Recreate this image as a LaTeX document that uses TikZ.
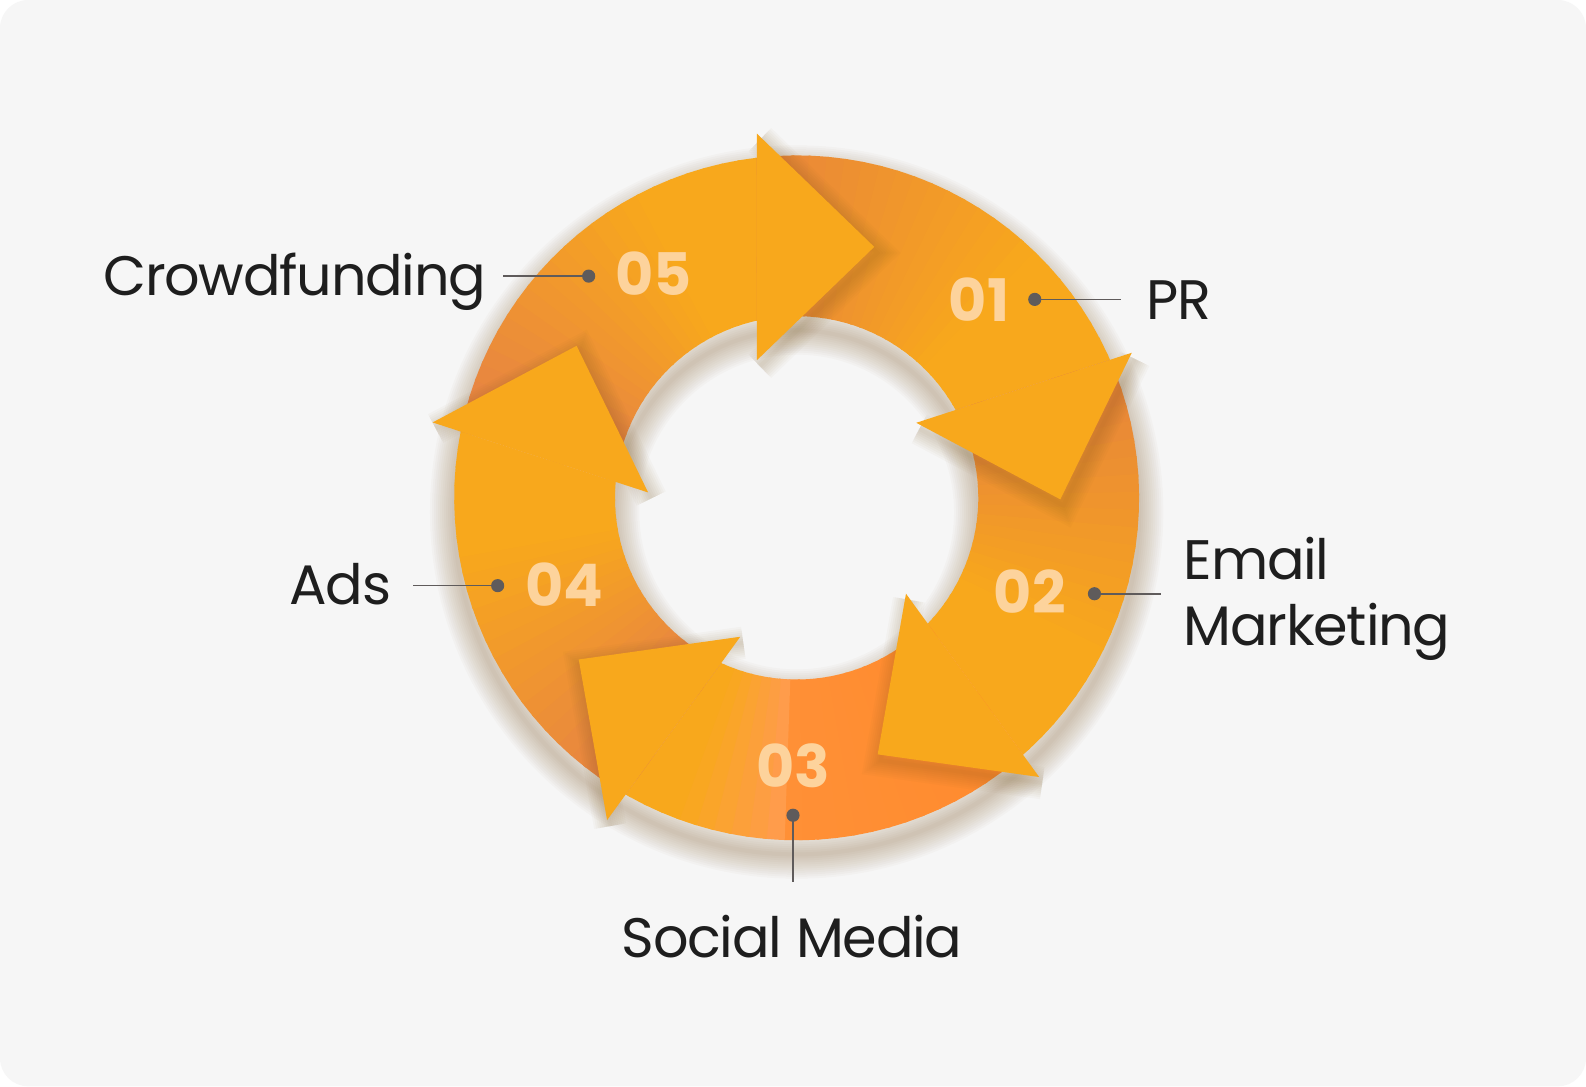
\documentclass[tikz,border=0pt]{standalone}
\usepackage{fontspec}
\setmainfont{Poppins}
\newfontfamily\labelfont{Poppins}[LetterSpace=-2.2]
\usepackage{tikz}
\usetikzlibrary{positioning}

\definecolor{panelbg}{HTML}{F6F6F6}
\definecolor{headorange}{HTML}{F8A81C}
\definecolor{tail05}{HTML}{E57F48}
\definecolor{tail01}{HTML}{E8843C}
\definecolor{tail02}{HTML}{E5803E}
\definecolor{tail03}{HTML}{FF8A2E}
\definecolor{tail04}{HTML}{E57F48}
\definecolor{mid03}{HTML}{FF9036}
\definecolor{light03}{HTML}{FF9C4C}
\definecolor{numcream}{HTML}{FDD39C}
\definecolor{inkblack}{HTML}{1E1E1E}
\definecolor{leadgray}{HTML}{5F5B5B}
\definecolor{shadowbrown}{RGB}{125,88,30}

\begin{document}
\begin{tikzpicture}[x=1pt, y=1pt,
    stagetext/.style={font=\labelfont\fontsize{55}{65}\selectfont, text=inkblack, inner sep=0pt},
    stagenum/.style={font=\fontsize{58}{58}\selectfont\bfseries, text=numcream, inner sep=0pt},
    leaddot/.style={circle, fill=leadgray, minimum size=13pt, inner sep=0pt},
    leadline/.style={draw=leadgray, line width=1.6pt},
    headshape/.style={fill=headorange}]

    \useasboundingbox (0,0) rectangle (1568,1074);
    \fill[white] (0,0) rectangle (1568,1074);
    \fill[panelbg, rounded corners=28pt] (0,0) rectangle (1568,1074);

    \coordinate (ring) at (787.6,581.8);
    \coordinate (hub) at (784.5,578.5);

    \foreach \w in {4,8,...,48}
        \draw[shadowbrown, line width=\w, opacity=0.027, shift={(ring)}, yshift=-14]
            (0,0) circle[radius=338.5] (0,0) circle[radius=179.6];

    \foreach \k/\tailc in {0/tail05,1/tail01,2/tail02,3/tail03,4/tail04}{
        \begin{scope}
            \clip[shift={(hub)}] ({216-72*\k}:44.75) -- ({92.96-72*\k}:700.9) -- ({164.96-72*\k}:700.9) -- cycle;
            \foreach \s in {0,...,27}{
                \pgfmathsetmacro\a{175-72*\k-3*\s}
                \pgfmathsetmacro\b{\a-3.6}
                \pgfmathsetmacro\p{max(0,min(100,100*(170.2-72*\k-\a+1.8)/72))}
                \ifnum\k=3
                    \ifdim\p pt<66pt
                        \pgfmathsetmacro\q{100*\p/66}
                        \colorlet{slicecol}{mid03!\q!tail03}
                    \else
                        \pgfmathsetmacro\q{min(100,100*(\p-66)/24)}
                        \colorlet{slicecol}{headorange!\q!light03}
                    \fi
                \else
                    \pgfmathsetmacro\q{min(100,1.35*\p)}
                    \colorlet{slicecol}{headorange!\q!\tailc}
                \fi
                \fill[slicecol, shift={(ring)}] (\a:338.5) arc[start angle=\a, end angle=\b, radius=338.5]
                    -- (\b:179.6) arc[start angle=\b, end angle=\a, radius=179.6] -- cycle;
            }
        \end{scope}
    }

    \foreach \k in {0,...,4}
        \foreach \w in {4,8,...,32}
            \draw[shadowbrown, line width=\w, opacity=0.032, shift={(hub)}, xshift=3, yshift=-6]
                ({95.69-72*\k}:365.2) -- ({72.39-72*\k}:263.8) -- ({104.56-72*\k}:144.0);

    \foreach \k in {0,...,4}
        \fill[headshape, shift={(hub)}] ({95.69-72*\k}:365.2) -- ({72.39-72*\k}:263.8) -- ({104.56-72*\k}:144.0) -- cycle;

    \node[stagenum] (n05) at (646,803) {05};
    \node[stagenum] (n01) at (968,778) {01};
    \node[stagenum] (n02) at (1018,489) {02};
    \node[stagenum] (n03) at (784,317) {03};
    \node[stagenum] (n04) at (558,496) {04};

    \node[leaddot] (d01) at (1023,778) {};
    \node[stagetext, anchor=base west] (t01) at (1133,758) {PR};
    \draw[leadline, shorten >=25pt] (d01.center) -- (d01 -| t01.west);

    \node[leaddot] (d02) at (1082,487) {};
    \node[stagetext, anchor=west, align=left] (t02) at (1170,482) {Email\\Marketing};
    \draw[leadline, shorten >=22pt] (d02.center) -- (d02 -| t02.west);

    \node[leaddot] (d03) at (784,268) {};
    \node[stagetext, anchor=base] (t03) at (783,127) {Social Media};
    \draw[leadline, shorten >=33pt] (d03.center) -- (d03 |- t03.north);

    \node[leaddot] (d04) at (492,495) {};
    \node[stagetext, anchor=base east] (t04) at (387,476) {Ads};
    \draw[leadline, shorten >=21pt] (d04.center) -- (d04 -| t04.east);

    \node[leaddot] (d05) at (582,801) {};
    \node[stagetext, anchor=base east] (t05) at (481,782) {Crowdfunding};
    \draw[leadline, shorten >=16pt] (d05.center) -- (d05 -| t05.east);
\end{tikzpicture}
\end{document}
